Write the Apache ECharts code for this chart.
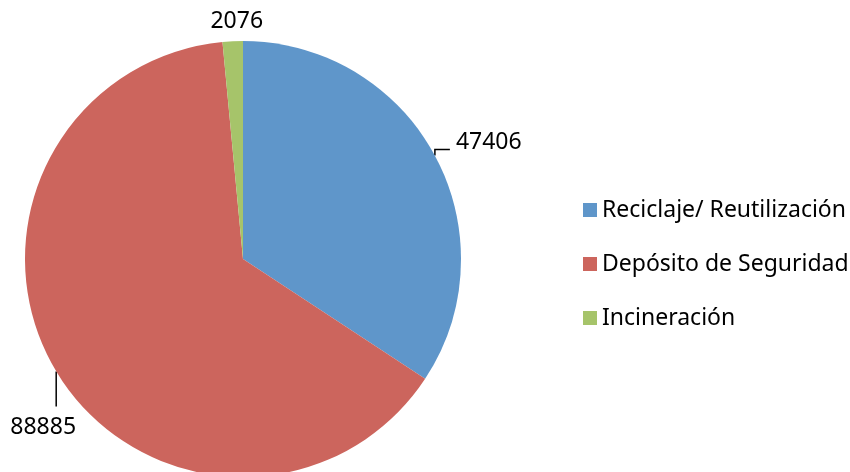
<!DOCTYPE html>
<html>
<head>
<meta charset="utf-8">
<script src="https://cdn.jsdelivr.net/npm/echarts@6/dist/echarts.min.js"></script>
<style>
  html, body { margin: 0; padding: 0; background: #fff; }
  #chart { width: 850px; height: 472px; }
</style>
</head>
<body>
<div id="chart"></div>
<script>
const categories = ['Reciclaje/ Reutilización', 'Depósito de Seguridad', 'Incineración']
const values = [47406, 88885, 2076]
const colors = ['#5F96CA', '#CC655D', '#A6C46A']

const chart = echarts.init(document.getElementById('chart'))
const font = 'Noto Sans'

// place the value labels like the original (Excel style leaders)
function placeLabel(params) {
  const pts = params.labelLinePoints
  if (!pts) return {}
  const p = pts[0]
  if (params.dataIndex === 0) {
    return {
      x: p[0] + 21, y: p[1] - 13, align: 'left', verticalAlign: 'middle',
      labelLinePoints: [[p[0], p[1]], [p[0], p[1] - 6], [p[0] + 15, p[1] - 6]]
    }
  }
  if (params.dataIndex === 1) {
    return {
      x: p[0] - 13, y: p[1] + 56, align: 'center', verticalAlign: 'middle',
      labelLinePoints: [[p[0], p[1]], [p[0], p[1] + 18], [p[0], p[1] + 35]]
    }
  }
  return {
    x: p[0] + 4, y: p[1] - 20, align: 'center', verticalAlign: 'middle',
    labelLinePoints: [[p[0], p[1]], [p[0], p[1]], [p[0], p[1]]]
  }
}

chart.setOption({
  animation: false,
  color: colors,
  legend: {
    orient: 'vertical',
    left: 578,
    top: 193,
    itemWidth: 14,
    itemHeight: 14,
    itemGap: 30,
    icon: 'rect',
    textStyle: {
      fontFamily: font,
      fontSize: 23,
      color: '#000',
      lineHeight: 24
    },
    data: categories
  },
  series: [
    {
      type: 'pie',
      center: [243, 259],
      radius: 218,
      startAngle: 90,
      clockwise: true,
      silent: true,
      data: categories.map((name, i) => ({ name: name, value: values[i] })),
      itemStyle: { borderWidth: 0 },
      label: {
        show: true,
        position: 'outside',
        formatter: '{c}',
        fontFamily: font,
        fontSize: 23,
        color: '#000',
        overflow: 'none'
      },
      labelLine: {
        show: true,
        length: 6,
        length2: 14,
        lineStyle: { color: '#000', width: 1.5 }
      },
      labelLayout: placeLabel
    }
  ]
})
</script>
</body>
</html>
